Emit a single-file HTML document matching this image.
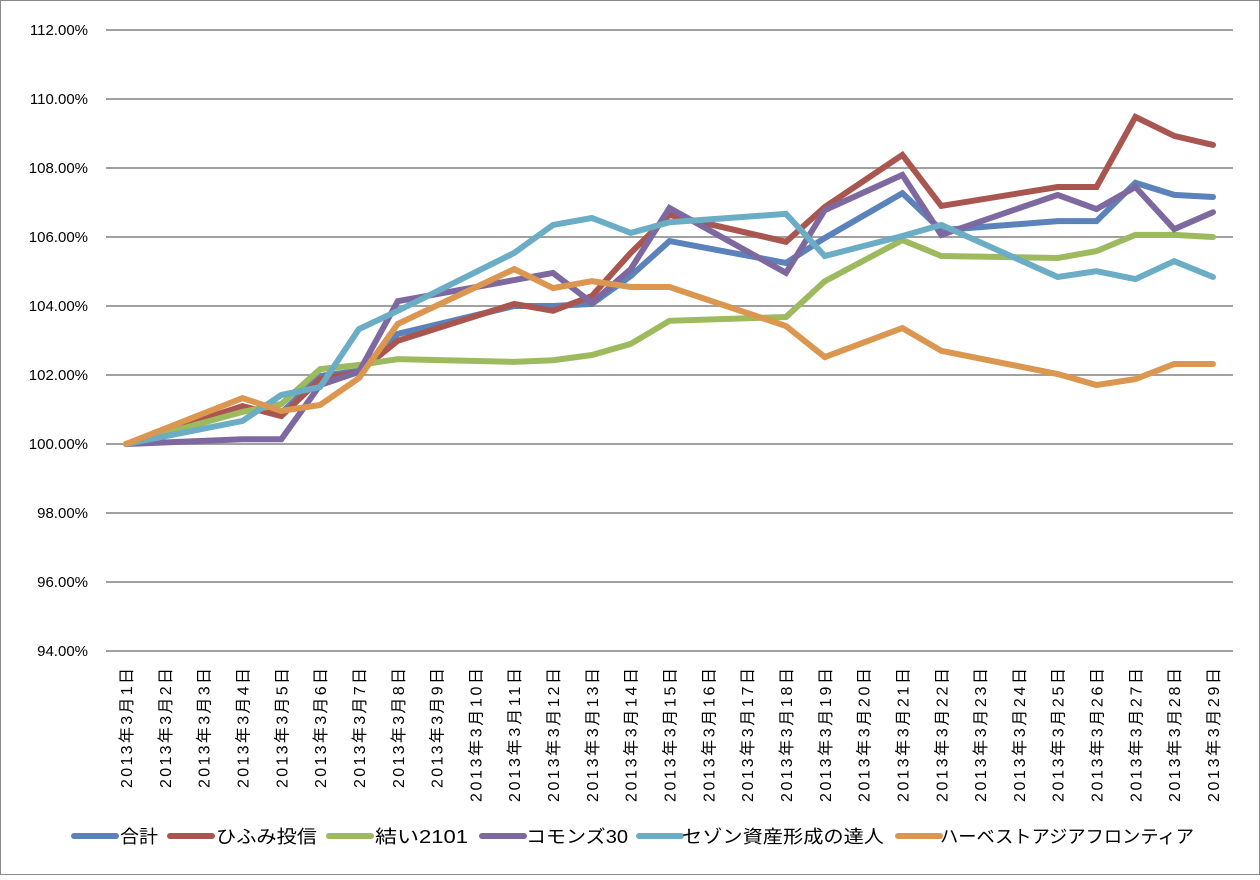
<!DOCTYPE html>
<html><head><meta charset="utf-8"><style>
body{margin:0;background:#fff;}
svg text{font-family:"Liberation Sans","Noto Sans CJK JP",sans-serif;}
</style></head><body>
<svg id="chart" width="1260" height="875" xmlns="http://www.w3.org/2000/svg">
<rect x="0.5" y="0.5" width="1259" height="874" fill="#fff" stroke="#8a8a8a"/>
<g id="grid"></g><g id="ylabels"></g><g id="xlabels"></g><g id="lines"></g><g id="legend"></g>
</svg>
<script>
const days = [1,2,3,4,5,6,7,8,9,10,11,12,13,14,15,16,17,18,19,20,21,22,23,24,25,26,27,28,29];
const tradeDays = [1,4,5,6,7,8,11,12,13,14,15,18,19,21,22,25,26,27,28,29];
const seriesNames = ["合計","ひふみ投信","結い2101","コモンズ30","セゾン資産形成の達人","ハーベストアジアフロンティア"];
const sTotal  = [100,101.04,100.90,101.97,102.12,103.19,104.0,104.0,104.06,104.87,105.88,105.25,105.97,107.27,106.20,106.46,106.46,107.57,107.22,107.16];
const sHifumi = [100,101.10,100.81,101.88,102.09,102.99,104.06,103.86,104.29,105.54,106.64,105.86,106.87,108.38,106.90,107.45,107.45,109.48,108.93,108.67];
const sYui    = [100,100.93,101.16,102.17,102.29,102.46,102.38,102.43,102.58,102.90,103.57,103.68,104.72,105.91,105.45,105.39,105.59,106.06,106.06,106.0];
const sCommons= [100,100.14,100.14,101.71,102.09,104.14,104.75,104.96,104.09,105.07,106.84,104.96,106.78,107.80,106.06,107.22,106.81,107.45,106.23,106.72];
const sSaison = [100,100.67,101.42,101.65,103.33,103.86,105.54,106.35,106.55,106.12,106.43,106.67,105.45,106.03,106.35,104.84,105.01,104.78,105.30,104.84];
const sHarvest= [100,101.33,100.96,101.13,101.91,103.48,105.07,104.52,104.72,104.55,104.55,103.42,102.52,103.36,102.70,102.03,101.71,101.88,102.32,102.32];
const yTicks = [94,96,98,100,102,104,106,108,110,112];
const seriesData = [sTotal,sHifumi,sYui,sCommons,sSaison,sHarvest];
const colors = ["#5b82bb","#aa5650","#9dba5e","#7e68a0","#6badc4","#db9650"];
const NS="http://www.w3.org/2000/svg";
const X0=126,X1=1213,Y0=651,Y1=30;
const xs = d => X0+(d-1)*(X1-X0)/28;
const ys = v => Y0-(v-94)*(Y0-Y1)/18;
function mk(tag,attrs,parent){const e=document.createElementNS(NS,tag);for(const k in attrs)e.setAttribute(k,attrs[k]);parent.appendChild(e);return e;}
const grid=document.getElementById('grid'),yl=document.getElementById('ylabels'),xl=document.getElementById('xlabels'),ln=document.getElementById('lines'),lg=document.getElementById('legend');
yTicks.forEach(t=>{
  const g=mk('line',{x1:106,x2:1233,y1:ys(t),y2:ys(t),stroke:'#a0a0a0','stroke-width':2},grid);
  
  
  const tx=mk('text',{x:88,y:ys(t)+5,'text-anchor':'end','font-size':15,fill:'#000'},yl);
  tx.textContent=t.toFixed(2)+'%';
  
  
});
days.forEach(d=>{
  const x=xs(d);
  const len = d<10 ? 120 : 134;
  const tx=mk('text',{x:0,y:0,'text-anchor':'end','font-size':16,fill:'#000',textLength:len,lengthAdjust:'spacing',transform:`translate(${x+6},668) rotate(-90)`},xl);
  tx.textContent='2013年3月'+d+'日';
  
  
});
seriesData.forEach((s,i)=>{
  const pts=s.map((v,j)=>xs(tradeDays[j]).toFixed(1)+','+ys(v).toFixed(1)).join(' ');
  const p=mk('polyline',{points:pts,fill:'none',stroke:colors[i],'stroke-width':6,'stroke-linejoin':'miter','stroke-linecap':'round'},ln);
  
  
});
const legX=[74,170,329,482,639,898];
const legTxt=[[120,38],[216,101],[375,93],[526,102],[682,202],[940,254]];
seriesNames.forEach((n,i)=>{
  const g=mk('g',{},lg);
  
  
  mk('line',{x1:legX[i],x2:legX[i]+42,y1:836,y2:836,stroke:colors[i],'stroke-width':6,'stroke-linecap':'round'},g);
  const t=mk('text',{x:legTxt[i][0],y:843,'font-size':18,fill:'#000',textLength:legTxt[i][1],lengthAdjust:'spacingAndGlyphs'},g);
  t.textContent=n;
});
</script>
</body></html>
